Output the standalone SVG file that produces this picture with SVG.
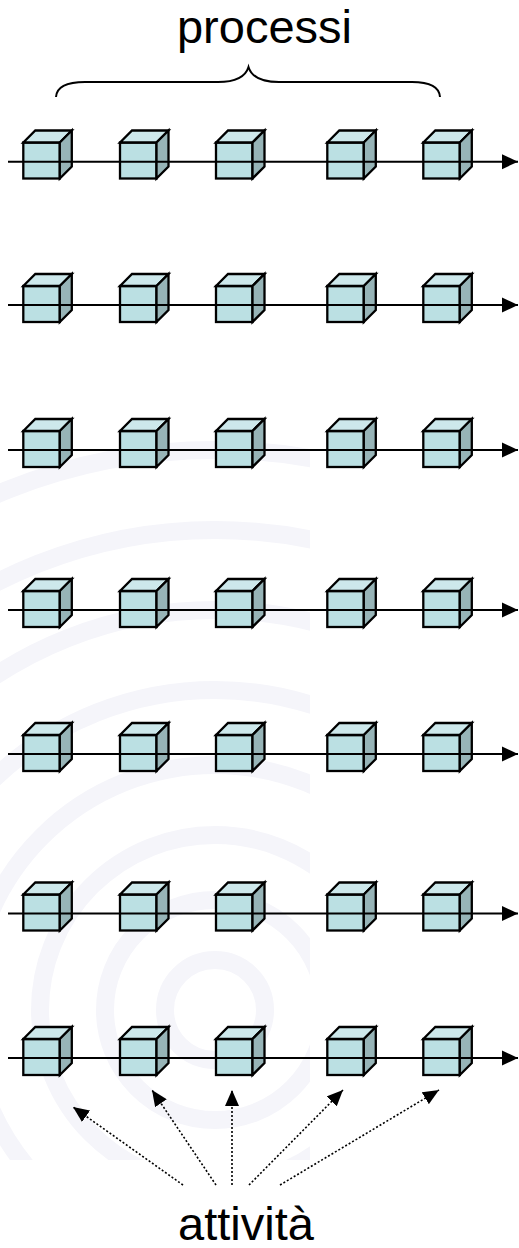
<svg xmlns="http://www.w3.org/2000/svg" xmlns:xlink="http://www.w3.org/1999/xlink" width="519" height="1248" viewBox="0 0 519 1248">
<style>
.face{stroke:#000;stroke-width:2.3;stroke-linejoin:miter}
.front{fill:#BBE0E3}
.top{fill:#CDE8EB}
.side{fill:#97B4B7}
.axis{stroke:#000;stroke-width:2;fill:none}
.dot{stroke:#000;stroke-width:1.6;fill:none;stroke-dasharray:2 2}
.lbl{font-family:"Liberation Sans",Arial,sans-serif;font-size:47px;fill:#000;text-anchor:middle}
.wm{fill:none;stroke:#F5F5FA;stroke-width:18}
</style>
<defs>
<marker id="ah" markerUnits="userSpaceOnUse" markerWidth="16" markerHeight="16" viewBox="0 0 14 14" refX="14" refY="7" orient="auto">
<path d="M0,0.5 L14,7 L0,13.5 Z" fill="#000"/>
</marker>
<marker id="ahd" markerUnits="userSpaceOnUse" markerWidth="16" markerHeight="14" viewBox="0 0 16 14" refX="16" refY="7" orient="auto">
<path d="M0,0 L16,7 L0,14 Z" fill="#000"/>
</marker>
<g id="cube">
<rect class="face front" x="0" y="0" width="36.5" height="36"/>
<polygon class="face top" points="0,0 12,-12 48.5,-12 36.5,0"/>
<polygon class="face side" points="36.5,0 48.5,-12 48.5,24 36.5,36"/>
</g>
<clipPath id="wmclip"><rect x="0" y="370" width="310" height="790"/></clipPath>
</defs>
<rect width="519" height="1248" fill="#fff"/>
<g id="watermark" clip-path="url(#wmclip)">
<circle class="wm" cx="215" cy="1010" r="50"/>
<circle class="wm" cx="215" cy="1010" r="110"/>
<circle class="wm" cx="215" cy="1010" r="175"/>
<circle class="wm" cx="215" cy="1010" r="245"/>
<circle class="wm" cx="215" cy="1010" r="320"/>
<circle class="wm" cx="215" cy="1010" r="400"/>
<circle class="wm" cx="215" cy="1010" r="480"/>
<circle class="wm" cx="215" cy="1010" r="560"/>
</g>
<g id="label-processi"><text class="lbl" x="264.5" y="43">processi</text></g>
<g id="brace"><path class="axis" d="M56,97 Q57,82 85,82 L218,82 Q244,82 248.5,67 Q253,82 279,82 L412,82 Q439,82 440,97"/></g>
<g id="row1">
<use xlink:href="#cube" x="23.3" y="142.5"/><use xlink:href="#cube" x="120" y="142.5"/><use xlink:href="#cube" x="216" y="142.5"/><use xlink:href="#cube" x="327.3" y="142.5"/><use xlink:href="#cube" x="423.3" y="142.5"/>
</g>
<g id="row2">
<use xlink:href="#cube" x="23.3" y="286"/><use xlink:href="#cube" x="120" y="286"/><use xlink:href="#cube" x="216" y="286"/><use xlink:href="#cube" x="327.3" y="286"/><use xlink:href="#cube" x="423.3" y="286"/>
</g>
<g id="row3">
<use xlink:href="#cube" x="23.3" y="431"/><use xlink:href="#cube" x="120" y="431"/><use xlink:href="#cube" x="216" y="431"/><use xlink:href="#cube" x="327.3" y="431"/><use xlink:href="#cube" x="423.3" y="431"/>
</g>
<g id="row4">
<use xlink:href="#cube" x="23.3" y="591"/><use xlink:href="#cube" x="120" y="591"/><use xlink:href="#cube" x="216" y="591"/><use xlink:href="#cube" x="327.3" y="591"/><use xlink:href="#cube" x="423.3" y="591"/>
</g>
<g id="row5">
<use xlink:href="#cube" x="23.3" y="735"/><use xlink:href="#cube" x="120" y="735"/><use xlink:href="#cube" x="216" y="735"/><use xlink:href="#cube" x="327.3" y="735"/><use xlink:href="#cube" x="423.3" y="735"/>
</g>
<g id="row6">
<use xlink:href="#cube" x="23.3" y="894.5"/><use xlink:href="#cube" x="120" y="894.5"/><use xlink:href="#cube" x="216" y="894.5"/><use xlink:href="#cube" x="327.3" y="894.5"/><use xlink:href="#cube" x="423.3" y="894.5"/>
</g>
<g id="row7">
<use xlink:href="#cube" x="23.3" y="1039"/><use xlink:href="#cube" x="120" y="1039"/><use xlink:href="#cube" x="216" y="1039"/><use xlink:href="#cube" x="327.3" y="1039"/><use xlink:href="#cube" x="423.3" y="1039"/>
</g>
<g id="connectors">
<line class="axis" x1="8" y1="161.7" x2="518" y2="161.7" marker-end="url(#ah)"/>
<line class="axis" x1="8" y1="305" x2="518" y2="305" marker-end="url(#ah)"/>
<line class="axis" x1="8" y1="450" x2="518" y2="450" marker-end="url(#ah)"/>
<line class="axis" x1="8" y1="610" x2="518" y2="610" marker-end="url(#ah)"/>
<line class="axis" x1="8" y1="754" x2="518" y2="754" marker-end="url(#ah)"/>
<line class="axis" x1="8" y1="913.5" x2="518" y2="913.5" marker-end="url(#ah)"/>
<line class="axis" x1="8" y1="1058" x2="518" y2="1058" marker-end="url(#ah)"/>
<line class="dot" x1="183" y1="1185" x2="73" y2="1107" marker-end="url(#ahd)"/>
<line class="dot" x1="216" y1="1185" x2="152" y2="1090" marker-end="url(#ahd)"/>
<line class="dot" x1="232" y1="1185" x2="232" y2="1090" marker-end="url(#ahd)"/>
<line class="dot" x1="249" y1="1185" x2="343" y2="1090" marker-end="url(#ahd)"/>
<line class="dot" x1="280" y1="1185" x2="439" y2="1090" marker-end="url(#ahd)"/>
</g>
<g id="label-attivita"><text class="lbl" x="246" y="1240">attività</text></g>
</svg>
